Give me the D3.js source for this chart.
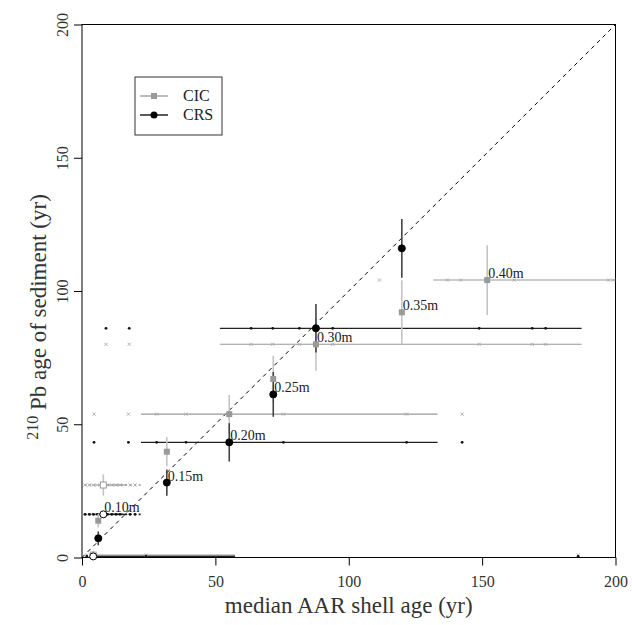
<!DOCTYPE html>
<html>
<head>
<meta charset="utf-8">
<script src="https://d3js.org/d3.v7.min.js"></script>
<style>
  body { margin: 0; background: #fff; }
  svg text { font-family: "Liberation Serif", "Times New Roman", serif; }
</style>
</head>
<body>
<div id="chart"></div>
<script>
// one entry per sampled depth (bottom to top)
var depthLabels = ["", "", "0.10m", "0.15m", "0.20m", "0.25m", "0.30m", "0.35m", "0.40m"];
var shellMedian = [4.2, 6.1, 8.0, 31.8, 55.2, 71.7, 87.7, 119.9, 151.9];
var cicAge = [0.9, 13.8, 27.2, 39.7, 53.8, 67.0, 80.0, 92.0, 104.1];
var cicErr = [1.5, 2.5, 4.0, 5.5, 7.2, 8.7, 9.9, 12.0, 13.1];
var crsAge = [0.4, 7.2, 16.2, 28.1, 43.2, 61.2, 86.0, 116.0, null];
var crsErr = [0.5, 2.6, 1.2, 4.9, 7.2, 8.4, 9.1, 11.0, null];
var openMarker = [true, false, true, false, false, false, false, false, false];
// shell age range (solid) and full spread (dotted)
var rangeLo = [4.2, null, 7.4, null, 22.1, null, 51.7, null, 131.7];
var rangeHi = [57.4, null, 16.8, null, 133.3, null, 187.3, null, 200];
var spreadLo = [null, null, 1.0, null, null, null, null, null, null];
var spreadHi = [null, null, 22.0, null, null, null, null, null, null];
// individual shell ages
var shellAges = [
    [1.8, 4.2, 24.0, 186],
    [],
    [1.1, 2.7, 4.2, 5.7, 7.8, 9.5, 11.1, 12.7, 14.2, 18.0, 19.9],
    [],
    [4.5, 17.4, 28.0, 39.0, 55.2, 75.5, 121.7, 142.5],
    [],
    [9.0, 17.7, 63.4, 71.5, 81.5, 87.7, 94.0, 148.9, 168.8, 173.8],
    [],
    [111.5, 137.1, 142.0, 151.9, 162.0, 197.3, 199.2]
];
var labelSeries = [null, null, "crs", "crs", "crs", "crs", "cic", "cic", "cic"];
var axisTicks = [0, 50, 100, 150, 200];
var legendNames = ["CIC", "CRS"];

var width = 632, height = 625;
var cicColor = "#999", crsColor = "#000";

var svg = d3.select("#chart").append("svg")
    .attr("width", width)
    .attr("height", height);

svg.append("rect").attr("width", width).attr("height", height).attr("fill", "#fff");

var x = d3.scaleLinear().domain([0, 200]).range([82, 615.5]);
var y = d3.scaleLinear().domain([0, 200]).range([557.5, 24.5]);

var depths = d3.range(depthLabels.length);

// frame
svg.append("rect")
    .attr("x", x(0)).attr("y", y(200))
    .attr("width", x(200) - x(0)).attr("height", y(0) - y(200))
    .attr("fill", "none").attr("stroke", "#000").attr("stroke-width", 1);

// axes
var xAxis = svg.append("g")
    .attr("transform", "translate(0," + y(0) + ")")
    .call(d3.axisBottom(x).tickValues(axisTicks).tickSize(8).tickPadding(10));
var yAxis = svg.append("g")
    .attr("transform", "translate(" + x(0) + ",0)")
    .call(d3.axisLeft(y).tickValues(axisTicks).tickSize(8));
[xAxis, yAxis].forEach(function (g) {
    g.select(".domain").remove();
    g.selectAll("line").attr("stroke", "#000");
    g.selectAll("text").attr("font-size", "16px").attr("fill", "#333");
});
yAxis.selectAll("text")
    .attr("x", 0).attr("dy", 0)
    .attr("text-anchor", "middle")
    .attr("transform", "translate(-14,0) rotate(-90)");

// axis titles
svg.append("text")
    .attr("x", (x(0) + x(200)) / 2).attr("y", 613)
    .attr("text-anchor", "middle")
    .attr("font-size", "23px").attr("fill", "#333")
    .text("median AAR shell age (yr)");

var yt = svg.append("text")
    .attr("transform", "translate(46,317) rotate(-90)")
    .attr("text-anchor", "middle")
    .attr("font-size", "23px").attr("fill", "#333");
yt.append("tspan").attr("font-size", "16px").attr("dy", -8).text("210");
yt.append("tspan").attr("dy", 8).text(" Pb age of sediment (yr)");

// 1:1 line
svg.append("line")
    .attr("x1", x(0)).attr("y1", y(0))
    .attr("x2", x(200)).attr("y2", y(200))
    .attr("stroke", "#000").attr("stroke-width", 1)
    .attr("stroke-dasharray", "4,4");

var plot = svg.append("g");

function drawRanges(ages, color, lw) {
    depths.forEach(function (i) {
        if (ages[i] == null) return;
        if (spreadLo[i] != null) {
            plot.append("line")
                .attr("x1", x(spreadLo[i])).attr("x2", x(spreadHi[i]))
                .attr("y1", y(ages[i])).attr("y2", y(ages[i]))
                .attr("stroke", color).attr("stroke-width", lw + 0.3)
                .attr("stroke-dasharray", "2,2.5");
        }
        if (rangeLo[i] != null) {
            plot.append("line")
                .attr("x1", x(rangeLo[i])).attr("x2", x(rangeHi[i]))
                .attr("y1", y(ages[i])).attr("y2", y(ages[i]))
                .attr("stroke", color).attr("stroke-width", lw);
        }
    });
}

function drawShells(ages, isCic) {
    depths.forEach(function (i) {
        if (ages[i] == null) return;
        shellAges[i].forEach(function (s) {
            if (isCic) {
                plot.append("path")
                    .attr("d", "M-1.6,-1.6L1.6,1.6M-1.6,1.6L1.6,-1.6")
                    .attr("transform", "translate(" + x(s) + "," + y(ages[i]) + ")")
                    .attr("stroke", "#aaa").attr("stroke-width", 0.9).attr("fill", "none");
            } else {
                plot.append("circle")
                    .attr("cx", x(s)).attr("cy", y(ages[i])).attr("r", 1.4)
                    .attr("fill", "#111");
            }
        });
    });
}

function drawErrors(ages, errs, color) {
    depths.forEach(function (i) {
        if (ages[i] == null) return;
        plot.append("line")
            .attr("x1", x(shellMedian[i])).attr("x2", x(shellMedian[i]))
            .attr("y1", y(ages[i] - errs[i])).attr("y2", y(ages[i] + errs[i]))
            .attr("stroke", color).attr("stroke-width", 1.6);
    });
}

drawRanges(cicAge, cicColor, 1.1);
drawRanges(crsAge, "#222", 1.3);
drawShells(cicAge, true);
drawShells(crsAge, false);
drawErrors(cicAge, cicErr, "#c4c4c4");
drawErrors(crsAge, crsErr, "#444");

// CIC squares
depths.forEach(function (i) {
    plot.append("rect")
        .attr("x", x(shellMedian[i]) - 3).attr("y", y(cicAge[i]) - 3)
        .attr("width", 6).attr("height", 6)
        .attr("fill", openMarker[i] ? "#fff" : cicColor)
        .attr("stroke", openMarker[i] ? cicColor : "none").attr("stroke-width", 1);
});
// CRS circles
depths.forEach(function (i) {
    if (crsAge[i] == null) return;
    plot.append("circle")
        .attr("cx", x(shellMedian[i])).attr("cy", y(crsAge[i])).attr("r", 3.5)
        .attr("fill", openMarker[i] ? "#fff" : crsColor)
        .attr("stroke", crsColor).attr("stroke-width", 1);
});

// depth labels
depths.forEach(function (i) {
    if (!labelSeries[i]) return;
    var a = labelSeries[i] == "crs" ? crsAge[i] : cicAge[i];
    plot.append("text")
        .attr("x", x(shellMedian[i]) + 1).attr("y", y(a) - 2)
        .attr("font-size", "14px").attr("fill", "#222")
        .text(depthLabels[i]);
});

// legend
var lg = svg.append("g").attr("transform", "translate(135,77)");
lg.append("rect").attr("width", 87).attr("height", 58)
    .attr("fill", "#fff").attr("stroke", "#333").attr("stroke-width", 1);
legendNames.forEach(function (name, k) {
    var ly = 19 + k * 19;
    var col = k == 0 ? cicColor : crsColor;
    lg.append("line").attr("x1", 5).attr("x2", 33).attr("y1", ly).attr("y2", ly)
        .attr("stroke", col).attr("stroke-width", 1.3);
    if (k == 0) {
        lg.append("rect").attr("x", 16).attr("y", ly - 3).attr("width", 6).attr("height", 6).attr("fill", col);
    } else {
        lg.append("circle").attr("cx", 19).attr("cy", ly).attr("r", 3.5).attr("fill", col);
    }
    lg.append("text").attr("x", 48).attr("y", ly + 5)
        .attr("font-size", "16px").attr("fill", "#222").text(name);
});
</script>
</body>
</html>
